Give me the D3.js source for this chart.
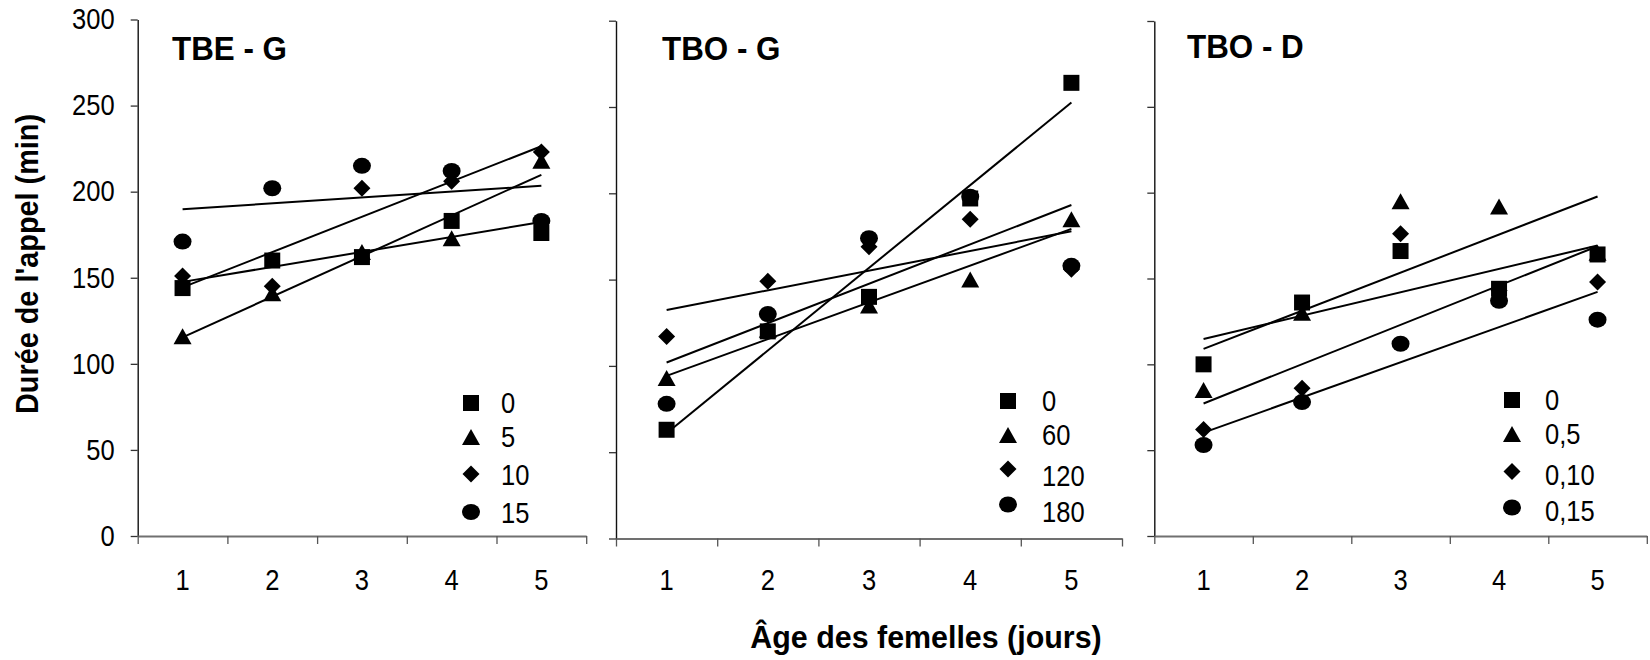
<!DOCTYPE html>
<html>
<head>
<meta charset="utf-8">
<script src="https://cdn.jsdelivr.net/npm/d3@7"></script>
<style>
  body { margin: 0; background: #fff; }
  text { font-family: "Liberation Sans", Arial, sans-serif; fill: #000; }
</style>
</head>
<body>
<svg id="chart"></svg>
<script>
const width = 1650, height = 660;

// Data
const days = [1, 2, 3, 4, 5];
const yTicks = [0, 50, 100, 150, 200, 250, 300];
const panelTitles = ["TBE - G", "TBO - G", "TBO - D"];

const tbeG_doses = ["0", "5", "10", "15"];
const tbeG_0  = [144, 160, 162, 183, 176];
const tbeG_5  = [116, 141, 165, 173, 218];
const tbeG_10 = [151, 145, 202, 206, 223];
const tbeG_15 = [171, 202, 215, 212, 183];

const tboG_doses = ["0", "60", "120", "180"];
const tboG_0   = [63, 120, 140, 197, 264];
const tboG_60  = [93, 121, 135, 150, 185];
const tboG_120 = [117, 149, 169, 185, 156];
const tboG_180 = [78, 130, 174, 198, 158];

const tboD_doses = ["0", "0,5", "0,10", "0,15"];
const tboD_0    = [100, 136, 166, 144, 164];
const tboD_05   = [85, 130, 195, 192, 165];
const tboD_010  = [62, 86, 176, 143, 148];
const tboD_015  = [53, 78, 112, 137, 126];

const markerTypes = ["square", "triangle", "diamond", "circle"];

// Layout of the three panels (pixels)
const layout = [
    { x0: 137.7, x1: 586.2, yTop: 19.5, yBot: 536, titleX: 172, titleY: 60,
      legX: 471, legTextX: 501, legY: [403, 437, 474, 512], legTextY: [403, 437, 475, 513] },
    { x0: 616, x1: 1122, yTop: 20.7, yBot: 538.5, titleX: 662, titleY: 60,
      legX: 1008, legTextX: 1042, legY: [401, 435, 469, 504.5], legTextY: [401, 435, 476, 511.5] },
    { x0: 1154.3, x1: 1646.8, yTop: 21, yBot: 536, titleX: 1187, titleY: 58,
      legX: 1512, legTextX: 1545, legY: [400, 434, 471.5, 507.5], legTextY: [400, 434, 475, 511] }
];

const panels = [
    { title: panelTitles[0], doses: tbeG_doses, series: [tbeG_0, tbeG_5, tbeG_10, tbeG_15] },
    { title: panelTitles[1], doses: tboG_doses, series: [tboG_0, tboG_60, tboG_120, tboG_180] },
    { title: panelTitles[2], doses: tboD_doses, series: [tboD_0, tboD_05, tboD_010, tboD_015] }
];

const labelSize = "29px";
const labelSquash = 0.88;   // the original text is a bit narrow

const svg = d3.select("#chart")
    .attr("width", width)
    .attr("height", height)
    .style("background", "#fff");

// narrow the glyphs of a text selection
function squash(sel, k) {
    sel.each(function() {
        const w = this.getComputedTextLength();
        d3.select(this).attr("textLength", w * k).attr("lengthAdjust", "spacingAndGlyphs");
    });
}

// marker shapes, Excel-like
function markerPath(type) {
    if (type === "square") return "M-8,-8h16v16h-16Z";
    if (type === "triangle") return "M0,-8L9,8L-9,8Z";
    if (type === "diamond") return "M0,-8.5L8.5,0L0,8.5L-8.5,0Z";
    const rx = 9, ry = 8;
    return `M${-rx},0a${rx},${ry} 0 1,0 ${2 * rx},0a${rx},${ry} 0 1,0 ${-2 * rx},0Z`;
}

// least squares fit
function fit(xs, ys) {
    const mx = d3.mean(xs), my = d3.mean(ys);
    const slope = d3.sum(xs, (x, i) => (x - mx) * (ys[i] - my)) / d3.sum(xs, x => (x - mx) ** 2);
    return x => my + slope * (x - mx);
}

panels.forEach(function(p, pi) {
    const L = layout[pi];
    const g = svg.append("g");

    const xBand = d3.scaleBand().domain(days).range([L.x0, L.x1]);
    const xCenter = d => xBand(d) + xBand.bandwidth() / 2;
    const xEdge = d3.scaleLinear().domain([0.5, 5.5]).range([L.x0, L.x1]);
    const yScale = d3.scaleLinear().domain([0, 300]).range([L.yBot, L.yTop]);

    // y axis
    const yAxis = g.append("g")
        .attr("transform", `translate(${L.x0},0)`)
        .call(d3.axisLeft(yScale).tickValues(yTicks).tickSize(7).tickSizeOuter(0).tickPadding(16)
            .tickFormat(pi === 0 ? d3.format("d") : () => ""));
    yAxis.select(".domain").attr("stroke", "#111").attr("stroke-width", 1.4);
    yAxis.selectAll(".tick line").attr("stroke", "#333").attr("stroke-width", 1.3);
    yAxis.selectAll("text").style("font-size", labelSize).attr("fill", "#000")
        .call(squash, labelSquash);

    // x axis tick marks between categories
    const xAxis = g.append("g")
        .attr("transform", `translate(0,${L.yBot})`)
        .call(d3.axisBottom(xEdge).tickValues([0.5, 1.5, 2.5, 3.5, 4.5, 5.5]).tickSize(8).tickSizeOuter(0)
            .tickFormat(() => ""));
    xAxis.select(".domain").attr("stroke", "#707070").attr("stroke-width", 2.2);
    xAxis.selectAll(".tick line").attr("stroke", "#555").attr("stroke-width", 1.3);

    // x axis labels at category centres
    const xLabels = g.append("g")
        .attr("transform", `translate(0,${L.yBot})`)
        .call(d3.axisBottom(xBand).tickSize(0).tickPadding(590 - 20.5 - L.yBot));
    xLabels.select(".domain").remove();
    xLabels.selectAll("text").style("font-size", labelSize).attr("fill", "#000")
        .call(squash, labelSquash);

    // panel title
    g.append("text")
        .attr("x", L.titleX)
        .attr("y", L.titleY)
        .text(p.title)
        .style("font-size", "33px")
        .style("font-weight", "bold")
        .call(squash, 0.95);

    // points, squares drawn last (on top)
    for (let s = p.series.length - 1; s >= 0; s--) {
        g.selectAll(null)
            .data(p.series[s])
            .enter().append("path")
            .attr("d", markerPath(markerTypes[s]))
            .attr("transform", (d, i) => `translate(${xCenter(days[i])},${yScale(d)})`)
            .attr("fill", "#000");
    }

    // linear trend lines
    p.series.forEach(function(vals) {
        const f = fit(days, vals);
        g.append("line")
            .attr("x1", xCenter(days[0]))
            .attr("y1", yScale(f(days[0])))
            .attr("x2", xCenter(days[days.length - 1]))
            .attr("y2", yScale(f(days[days.length - 1])))
            .attr("stroke", "#000")
            .attr("stroke-width", 2);
    });

    // legend
    const legend = g.selectAll(".legend")
        .data(p.doses)
        .enter().append("g")
        .attr("class", "legend");

    legend.append("path")
        .attr("d", (d, i) => markerPath(markerTypes[i]))
        .attr("transform", (d, i) => `translate(${L.legX},${L.legY[i]})`)
        .attr("fill", "#000");

    legend.append("text")
        .attr("x", L.legTextX)
        .attr("y", (d, i) => L.legTextY[i])
        .attr("dy", "0.36em")
        .text(d => d)
        .style("font-size", labelSize)
        .call(squash, labelSquash);
});

// axis titles
svg.append("text")
    .attr("transform", "translate(38,264) rotate(-90)")
    .attr("text-anchor", "middle")
    .text("Durée de l'appel (min)")
    .style("font-size", "31px")
    .style("font-weight", "bold")
    .call(squash, 0.93);

svg.append("text")
    .attr("x", 926)
    .attr("y", 648)
    .attr("text-anchor", "middle")
    .text("Âge des femelles (jours)")
    .style("font-size", "32px")
    .style("font-weight", "bold")
    .call(squash, 0.95);
</script>
</body>
</html>
